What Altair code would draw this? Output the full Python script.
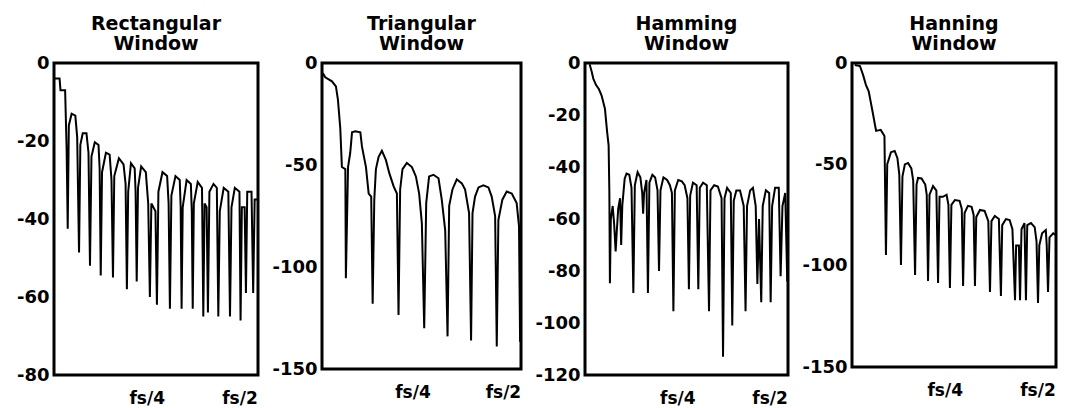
import altair as alt
import pandas as pd

# ---------------- data ----------------
# x = frequency bin (fs/4 = bin 50, fs/2 = bin 100), y = level in dB
rect_bin = [0, 3, 3.5, 6, 6.8, 7.4, 8, 9.5, 11.5, 12.5, 13.5, 14.2, 15.5, 17.5, 18.6, 19.4,
            20.2, 22, 24, 24.6, 25.2, 25.9, 28, 30, 31, 31.8, 32.5, 35, 37.5, 38.6, 39.3,
            40, 41.5, 43.5, 44, 44.6, 45.3, 47, 49.5, 50.8, 51.7, 52.5, 54.7, 55.5, 56.3,
            58.5, 61, 61.8, 62.5, 63.3, 65.5, 67.8, 68.3, 68.8, 69.4, 71.5, 73.8, 74.3,
            74.8, 75.4, 77.5, 79.8, 80.5, 81.2, 82.3, 83, 83.8, 86, 87.8, 88.6, 89.4, 91.5,
            94, 94.9, 95.7, 97.5, 100, 100.6, 101.3, 102.8, 103.5, 104.2, 106.5, 107.4,
            108.2, 110]
rect_db = [-4, -4, -7, -7, -22, -42.5, -16, -13, -13.5, -19, -48.6, -21, -18, -18, -23, -52,
           -24, -20.3, -21, -27, -54.5, -28, -23, -23.5, -30, -55, -29, -24.4, -26, -31, -58,
           -33, -25.7, -27, -33, -56, -32, -26.5, -28, -36, -60, -36, -38, -62, -33,
           -28, -29, -36, -63, -34, -29, -30, -37, -63, -37, -30, -31, -38,
           -63, -36, -30.5, -32, -65, -36, -37, -64, -33, -31, -32, -65, -38, -32,
           -33, -65, -37, -32, -33, -66, -37, -37, -59, -33, -33, -59,
           -35, -35]

tri_bin = [0.5, 1.8, 5.5, 7.7, 8.8, 10.1, 11, 12.9, 13.2, 14.4, 15.6, 16.6, 18.4, 21.2, 22.1,
           24.3, 25.8, 27.2, 28, 28.9, 29.8, 31.3, 33.1, 35.3, 37.2, 39.6, 41.4, 42.3, 43.2,
           44.5, 46.9, 49.7, 51.9, 53.7, 55.2, 56.5, 57.6, 59.2, 61.6, 64.4, 66.2, 68.1,
           69.4, 70.3, 72.1, 74.5, 77.3, 79.1, 81.3, 82.4, 83.2, 84.6, 86.5, 89.2, 92,
           93.8, 95.7, 96.6, 97.5, 99.7, 102.1, 104.9, 107.6, 108.9, 109.5, 110]
tri_db = [-5, -7, -9, -11.5, -18, -32, -51, -52, -105.5, -51, -44, -34, -33.5, -34, -41,
          -51, -64, -65.5, -118, -67, -52, -46, -43, -47.5, -54, -60.5, -64, -123.5, -62,
          -52, -49, -51, -55.6, -64, -78.6, -130, -68.7, -55.6, -54.8, -56.5, -67, -82,
          -134, -70, -62, -57, -59, -62, -73.6, -136, -73.6, -65.5, -61, -60, -61,
          -65.5, -75, -139, -77, -67, -63, -64, -68.7, -80, -136.6, -80]

hamm_bin = [2.5, 3.5, 4.5, 6, 7.5, 9, 10.8, 12, 12.8, 13.2, 13.5, 14, 15, 15.8, 16.6, 17.2,
            18, 19, 19.6, 20.2, 21.5, 22.5, 24, 25.2, 26.2, 27, 28.5, 30, 31, 31.5, 32, 33.3,
            34.1, 34.9, 36.5, 38, 39.3, 40.1, 40.9, 42.5, 44.5, 46, 47.1, 47.9, 48.7, 50.5,
            52.5, 54, 55.5, 56.3, 57, 58.5, 60.5, 61.4, 62.2, 64, 66, 67.2, 68, 70, 72, 74,
            74.8, 75.6, 77, 79, 79.8, 80.6, 82, 84, 86, 87, 87.8, 89.5, 91, 92.5, 93.4, 94.3,
            95.5, 96.3, 98, 99.8, 100.6, 101.4, 103, 105, 106, 107, 108.5, 109.6, 110]
hamm_db = [-0.5, -3, -6, -8.5, -10, -12.5, -17.6, -26.6, -31.7, -50, -84.7, -60, -55, -62,
           -72.5, -65, -56, -52, -70, -55, -44.5, -42.5, -43, -48, -88.5, -47, -42, -44,
           -50, -58, -50, -45, -88.5, -46, -43, -44, -49, -80, -49, -44, -45, -47, -50,
           -95.5, -49, -45, -45.5, -47, -52, -87, -51, -46, -47, -87, -48, -46, -47, -95.5,
           -49, -47, -47.5, -52, -113, -52, -48, -50, -101, -53, -49, -49, -55, -95.5, -55,
           -49, -48, -55, -85, -60, -92, -55, -49, -50, -92, -55, -48, -48, -82, -55, -50,
           -84, -52]

hann_bin = [1.5, 4.3, 6, 7.5, 9, 10.2, 11.5, 12.4, 13, 15.5, 17.5, 18.3, 19, 20, 21, 23,
            24.5, 25.5, 26.4, 27.2, 28.5, 30.2, 32, 33, 34, 34.8, 35.6, 37.5, 39.5, 40.3, 41,
            41.8, 43.7, 45.5, 46.4, 47.2, 49, 51, 52, 52.8, 53.6, 55.5, 58, 59.2, 59.9, 60.7,
            62.5, 64.5, 65.6, 66.3, 67, 69, 71.5, 73.5, 74.4, 75.2, 77, 79.2, 80.3, 81, 83,
            85, 86.5, 87.9, 88.5, 90, 90.6, 91.4, 93, 93.8, 94.5, 96.5, 98.5, 99.5, 100.3,
            101, 102.5, 104.5, 105, 105.7, 106.5, 108.5, 110]
hann_db = [-1, -1.5, -6, -10.8, -14, -19.7, -26, -30.6, -33.5, -33, -36, -94.7, -50, -47,
           -44, -43.4, -47, -55, -99.7, -56, -50, -49.3, -52, -58, -104.6, -60, -56.7, -57,
           -60, -65, -107.5, -65, -60.7, -63, -108.5, -66, -66, -65, -70, -111, -70, -67.6,
           -68, -72, -110, -74, -70.5, -71, -75, -110, -76, -72.5, -73, -78, -113, -78,
           -75.5, -77, -115, -80, -77, -77.5, -82, -117, -90, -90, -117, -82, -79, -117,
           -80, -79, -81, -88, -118.4, -90, -84, -82.4, -90, -113, -86, -84, -85]

titles = [["Rectangular", "Window"], ["Triangular", "Window"],
          ["Hamming", "Window"], ["Hanning", "Window"]]
y_ticks = [[0, -20, -40, -60, -80], [0, -50, -100, -150],
           [0, -20, -40, -60, -80, -100, -120], [0, -50, -100, -150]]
x_tick_bins = [50, 100]
x_tick_labels = ["fs/4", "fs/2"]

series = [(rect_bin, rect_db), (tri_bin, tri_db), (hamm_bin, hamm_db), (hann_bin, hann_db)]

# ---------------- chart ----------------
FONT = "DejaVu Sans"
label_expr = " : ".join(
    f"datum.value == {b} ? '{t}'" for b, t in zip(x_tick_bins, x_tick_labels)
) + " : ''"

widths = [204, 199, 203, 204]
heights = [312, 306, 312, 304]

panels = []
for (xb, yd), ttl, ticks, w, h in zip(series, titles, y_ticks, widths, heights):
    df = pd.DataFrame({"bin": xb, "db": yd})
    ch = alt.Chart(df).mark_line(color="black", strokeWidth=2, clip=True).encode(
        x=alt.X("bin:Q",
                scale=alt.Scale(domain=[0, 110], nice=False, zero=False),
                axis=alt.Axis(values=x_tick_bins, labelExpr=label_expr, title=None,
                              ticks=False, domain=False, grid=False, labelPadding=15,
                              labelFontSize=17, labelFlush=False,
                              labelFont=FONT, labelFontWeight="bold", labelColor="black")),
        y=alt.Y("db:Q",
                scale=alt.Scale(domain=[min(ticks), 0], nice=False, zero=False),
                axis=alt.Axis(values=ticks, title=None, ticks=False, domain=False,
                              grid=False, labelPadding=5, labelFontSize=18,
                              labelFlush=False, labelExpr="'' + datum.value",
                              labelFont=FONT, labelFontWeight="bold", labelColor="black")),
    ).properties(
        width=w, height=h,
        title=alt.TitleParams(ttl, font=FONT, fontSize=19, fontWeight="bold",
                              lineHeight=20, anchor="middle", offset=0, color="black"),
    )
    panels.append(ch)

chart = alt.hconcat(*panels, spacing=64, bounds="flush").properties(
    padding={"left": 14, "top": 13, "right": 4, "bottom": 1},
    background="white",
).configure_view(
    stroke="black", strokeWidth=3
)

chart.save("out.html", embed_options={"renderer": "svg", "actions": False})
